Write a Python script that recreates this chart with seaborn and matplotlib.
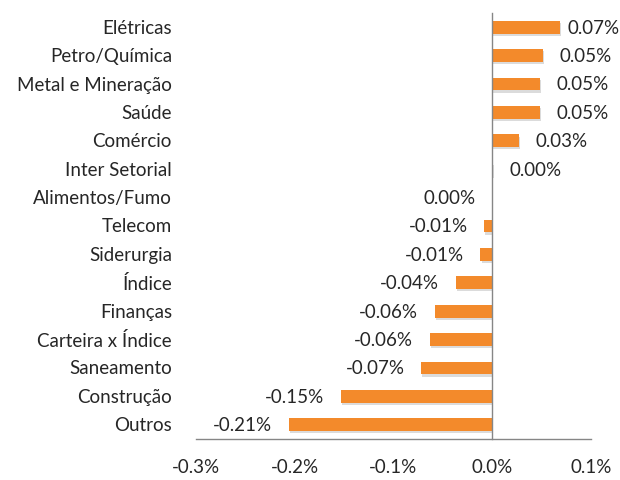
import pandas as pd
import seaborn as sns
import matplotlib.pyplot as plt
import matplotlib.ticker as mtick
import matplotlib.patheffects as pe

setores = ['Elétricas', 'Petro/Química', 'Metal e Mineração', 'Saúde', 'Comércio',
           'Inter Setorial', 'Alimentos/Fumo', 'Telecom', 'Siderurgia', 'Índice',
           'Finanças', 'Carteira x Índice', 'Saneamento', 'Construção', 'Outros']
valores = [0.069, 0.051, 0.048, 0.048, 0.027,
           0.0004, -0.0004, -0.008, -0.012, -0.037,
           -0.058, -0.063, -0.072, -0.153, -0.206]
x_ticks = [-0.3, -0.2, -0.1, 0.0, 0.1]

df = pd.DataFrame({'setor': setores, 'valor': valores})

sns.set_theme(style='white')
plt.rcParams['font.family'] = ['Lato', 'DejaVu Sans']
gray = '#868686'
fs = 13.5

fig = plt.figure(figsize=(6.2, 4.81), dpi=100)
ax = fig.add_axes([196 / 620, 1 - 440 / 481, 395 / 620, 426 / 481])

sns.barplot(data=df, x='valor', y='setor', orient='h', color='#F38A2B',
            saturation=1, width=0.45, ax=ax)
for bar in ax.patches:
    bar.set_linewidth(0)
    bar.set_path_effects([pe.SimplePatchShadow(offset=(0.8, -1.6), shadow_rgbFace='#9a9a9a', alpha=0.35),
                          pe.Normal()])

ax.set_xlim(-0.3, 0.1)
ax.set_ylim(len(setores) - 0.5, -0.5)
ax.set_xticks(x_ticks)
ax.xaxis.set_major_formatter(mtick.FuncFormatter(lambda v, p: f'{v:.1f}%'))
ax.tick_params(axis='x', direction='in', length=5, width=1, color=gray, pad=14, labelsize=fs)

# eixo vertical no zero com marcas entre categorias
ax.spines['left'].set_position(('data', 0))
ax.set_yticks(range(len(setores)))
ax.set_yticklabels([])
ax.tick_params(axis='y', which='major', length=0)
ax.set_yticks([i - 0.5 for i in range(len(setores) + 1)], minor=True)
ax.tick_params(axis='y', which='minor', direction='out', length=6, width=1, color=gray)

for s in ['top', 'right']:
    ax.spines[s].set_visible(False)
for s in ['left', 'bottom']:
    ax.spines[s].set_color(gray)
    ax.spines[s].set_linewidth(1)

ax.set_xlabel('')
ax.set_ylabel('')

trans = ax.get_yaxis_transform()
for i, nome in enumerate(setores):
    ax.text(-24 / 395, i, nome, transform=trans, ha='right', va='center', fontsize=fs)

vmax = max(valores)
for i, v in enumerate(valores):
    txt = f'{round(v, 2) + 0:.2f}%'
    if v >= 0:
        pad = 5 if v == vmax else 12
        ax.annotate(txt, (v, i), xytext=(pad, 0), textcoords='offset points',
                    ha='left', va='center', fontsize=fs)
    else:
        ax.annotate(txt, (v, i), xytext=(-12, 0), textcoords='offset points',
                    ha='right', va='center', fontsize=fs)

plt.savefig('out.png', dpi=100)
